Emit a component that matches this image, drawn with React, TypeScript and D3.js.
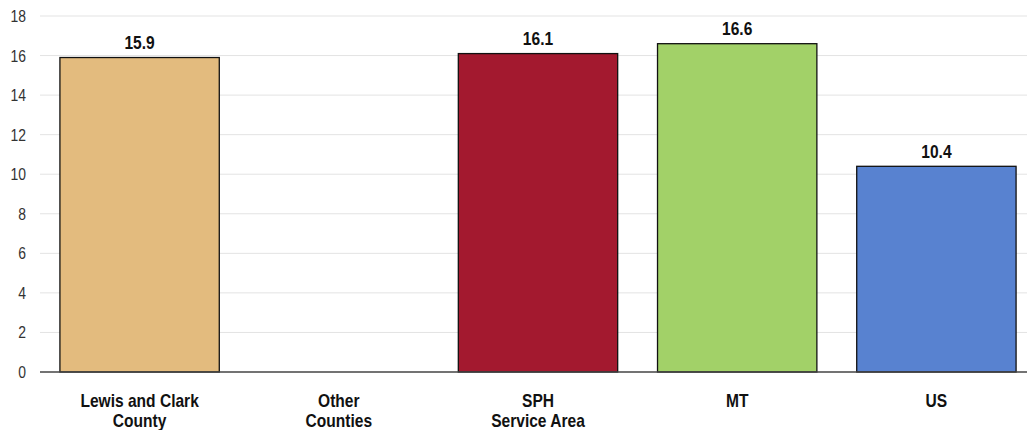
import React from "react";
import * as d3 from "d3";

const categories: string[][] = [
  ["Lewis and Clark", "County"],
  ["Other", "Counties"],
  ["SPH", "Service Area"],
  ["MT"],
  ["US"],
];
const values: (number | null)[] = [15.9, null, 16.1, 16.6, 10.4];
const barColors: string[] = ["#E3BB7E", "#A3192F", "#A3192F", "#A2D168", "#5882D0"];
const yTicks: number[] = [0, 2, 4, 6, 8, 10, 12, 14, 16, 18];

const W = 1027;
const H = 430;
const FONT = "'Liberation Sans', Arial, sans-serif";

function NText(props: {
  x: number;
  y: number;
  anchor: "start" | "middle" | "end";
  size: number;
  sx?: number;
  bold?: boolean;
  fill: string;
  dy?: string;
  children: React.ReactNode;
}) {
  return (
    <text
      transform={`translate(${props.x},${props.y}) scale(${props.sx ?? 0.82},1)`}
      textAnchor={props.anchor}
      fontSize={props.size}
      fontWeight={props.bold ? "bold" : "normal"}
      fill={props.fill}
      dy={props.dy}
    >
      {props.children}
    </text>
  );
}

export default function App() {
  const keys = categories.map((c) => c.join(" "));
  const x = d3.scaleBand<string>().domain(keys).range([40, 1036]).paddingInner(0.2).paddingOuter(0.1);
  const y = d3.scaleLinear().domain([0, 18]).range([372, 16]);

  return (
    <svg width={W} height={H} style={{ position: "absolute", left: 0, top: 0, background: "#fff" }} fontFamily={FONT}>
      {yTicks.map((t) => (
        <g key={t}>
          {t !== 0 && <line x1={40} x2={W} y1={y(t)} y2={y(t)} stroke="#e3e3e3" strokeWidth={1} />}
          <NText x={26} y={y(t)} dy="0.35em" anchor="end" size={17} fill="#333">
            {t}
          </NText>
        </g>
      ))}
      {values.map((v, i) => {
        if (v == null) return null;
        const bx = x(keys[i])!;
        const bw = x.bandwidth();
        return (
          <g key={i}>
            <rect x={bx} y={y(v)} width={bw} height={y(0) - y(v)} fill={barColors[i]} stroke="#111" strokeWidth={1.3} />
            <NText x={bx + bw / 2} y={y(v) - 8.5} anchor="middle" size={19} bold fill="#111">
              {v.toFixed(1)}
            </NText>
          </g>
        );
      })}
      <line x1={40} x2={W} y1={y(0)} y2={y(0)} stroke="#444" strokeWidth={1.5} />
      {categories.map((lines, i) => {
        const cx = x(keys[i])! + x.bandwidth() / 2;
        return (
          <g key={i}>
            {lines.map((l, j) => (
              <NText key={j} x={cx} y={406.5 + j * 20} anchor="middle" size={18} sx={0.865} bold fill="#111">
                {l}
              </NText>
            ))}
          </g>
        );
      })}
    </svg>
  );
}
